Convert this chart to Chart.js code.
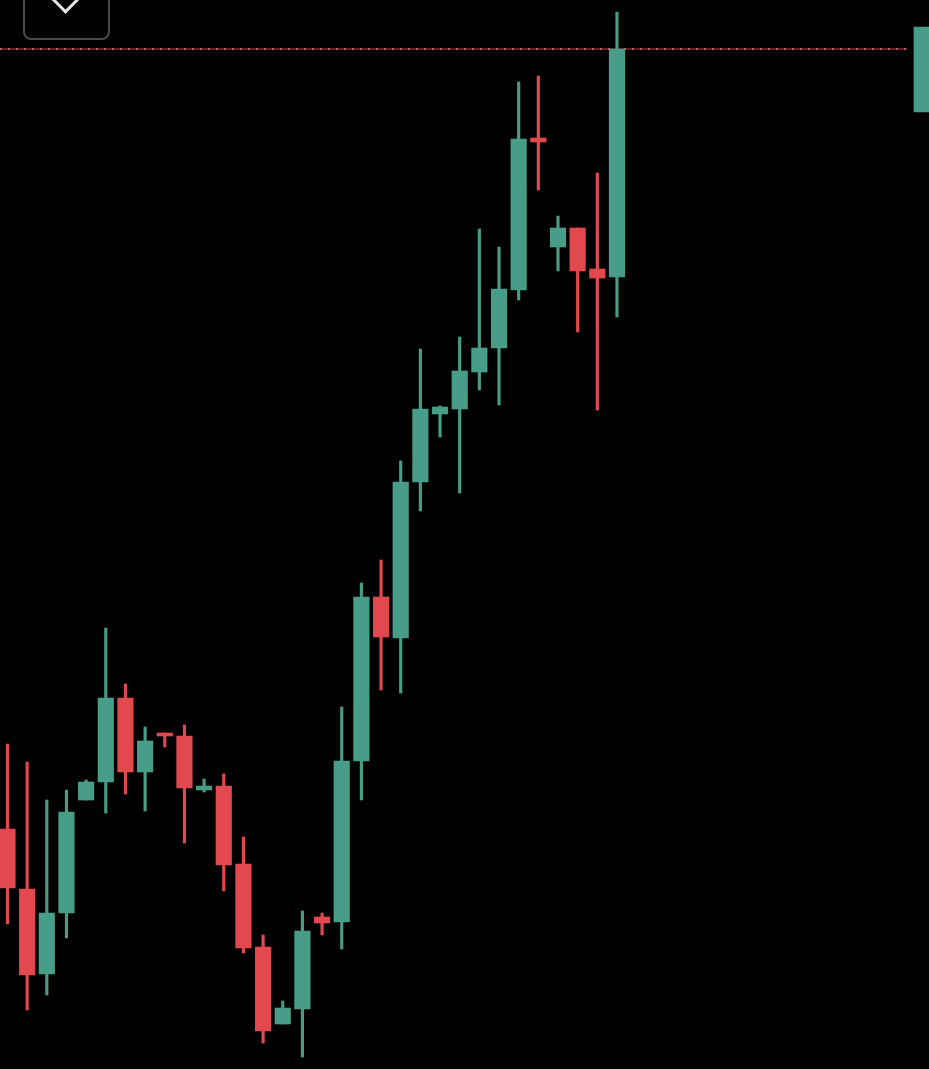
<!DOCTYPE html>
<html>
<head>
<meta charset="utf-8">
<script src="https://cdn.jsdelivr.net/npm/chart.js@4.4.1/dist/chart.umd.min.js"></script>
<style>
    html, body { margin: 0; padding: 0; background: #000; overflow: hidden; }
    #wrap { position: relative; width: 929px; height: 1069px; }
    #menuBtn {
        position: absolute; left: 23px; top: -12px; width: 83px; height: 48px;
        border: 2px solid #4a4a4a; border-radius: 8px; background: #000;
    }
    #menuBtn::after {
        content: ''; position: absolute; left: 29px; top: -4px; width: 20px; height: 20px;
        border-right: 3px solid #e6e6e6; border-bottom: 3px solid #e6e6e6;
        transform: rotate(45deg);
    }
</style>
</head>
<body>
<div id="wrap">
    <canvas id="chart"></canvas>
    <div id="menuBtn"></div>
</div>
<script>
// candles (arbitrary price units)
const opens  = [240, 180,  95, 156, 269, 287, 371, 297, 336, 333, 279, 283, 205, 122,  45,  60, 152, 147, 308, 472, 431, 587, 655, 660, 697, 721, 779, 931, 822, 841, 800, 792];
const highs  = [325, 307, 269, 279, 289, 441, 385, 342, 336, 344, 290, 295, 232, 134,  68, 158, 156, 362, 486, 509, 608, 720, 663, 732, 840, 822, 987, 993, 853, 841, 896, 1057];
const lows   = [145,  59,  74, 131, 269, 256, 275, 258, 322, 226, 277, 178, 116,  26,  45,  12, 134, 120, 269, 379, 376, 558, 632, 576, 679, 664, 769, 879, 798, 737, 659, 752];
const closes = [181,  94, 156, 257, 287, 371, 297, 328, 333, 281, 283, 204, 121,  38,  61, 138, 146, 308, 472, 432, 587, 660, 662, 698, 721, 780, 930, 927, 841, 798, 791, 1020];

// price tag on the right edge and the last price line
const tagPos = 46.5;
const tagRange = [957, 1042];
const lastPrice = 1020;
const lineEnd = 45.75;

const up = '#479d87';
const down = '#e2494e';

const xMin = -0.381;
const xMax = 46.87;

const candleColors = opens.map((o, i) => closes[i] >= o ? up : down);
const wicks = highs.map((h, i) => ({ x: i, y: [lows[i], h] }));
const bodies = opens.map((o, i) => ({ x: i, y: [o, closes[i]] }));

const ctx = document.getElementById('chart').getContext('2d');
document.getElementById('chart').parentNode.style.height = '1069px';

new Chart(ctx, {
    type: 'bar',
    data: {
        datasets: [
            {
                type: 'line',
                data: [{ x: xMin, y: lastPrice }, { x: lineEnd, y: lastPrice }],
                borderColor: '#c93c41',
                borderWidth: 1,
                pointRadius: 0,
                order: 3
            },
            {
                type: 'line',
                data: [{ x: xMin, y: lastPrice }, { x: lineEnd, y: lastPrice }],
                borderColor: '#b8b8b8',
                borderWidth: 1.5,
                borderDash: [2, 6],
                pointRadius: 0,
                order: 3
            },
            {
                data: wicks,
                backgroundColor: candleColors,
                barThickness: 2.5,
                grouped: false,
                borderWidth: 0,
                order: 2
            },
            {
                data: bodies,
                backgroundColor: candleColors,
                barThickness: 15.5,
                grouped: false,
                borderWidth: 0,
                order: 1
            },
            {
                data: [{ x: tagPos, y: tagRange }],
                backgroundColor: up,
                barThickness: 15.5,
                grouped: false,
                borderWidth: 0,
                order: 0
            }
        ]
    },
    options: {
        responsive: true,
        maintainAspectRatio: false,
        animation: false,
        layout: { padding: 0 },
        plugins: {
            legend: { display: false },
            tooltip: { enabled: false }
        },
        scales: {
            x: { type: 'linear', min: xMin, max: xMax, display: false, offset: false },
            y: { min: 0, max: 1069, display: false }
        }
    }
});
</script>
</body>
</html>
